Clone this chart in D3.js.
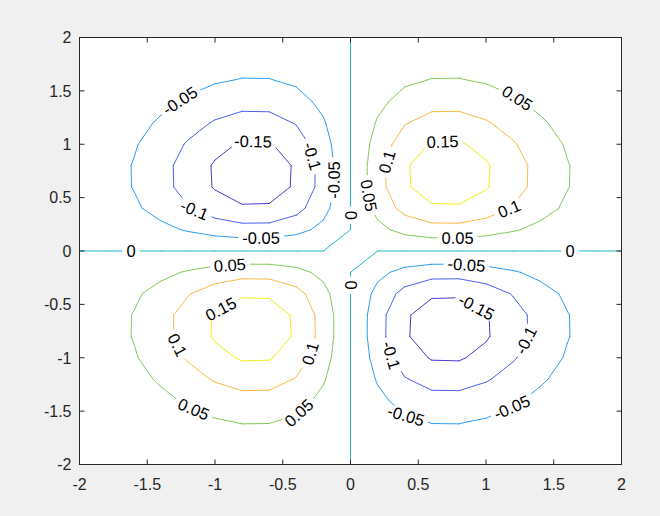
<!DOCTYPE html>
<html><head><meta charset="utf-8">
<script src="https://cdn.jsdelivr.net/npm/d3@7"></script>
<style>body{margin:0;background:#f0f0f0;overflow:hidden;} svg{display:block;}</style>
</head><body><svg id="chart" width="660" height="516"></svg>
<script>
// ---- data ----
const gridX = [-2,-1.8,-1.6,-1.4,-1.2,-1,-0.8,-0.6,-0.4,-0.2,0,0.2,0.4,0.6,0.8,1,1.2,1.4,1.6,1.8,2];
const gridY = [-2,-1.8,-1.6,-1.4,-1.2,-1,-0.8,-0.6,-0.4,-0.2,0,0.2,0.4,0.6,0.8,1,1.2,1.4,1.6,1.8,2];
// separable surface profiles: z(x,y) = profileX[i] * profileY[j]
const profileX = [-0.036631,-0.070495,-0.123687,-0.197201,-0.284313,-0.367879,-0.421834,-0.418606,-0.340858,-0.192158,0,
                  0.192158,0.340858,0.418606,0.421834,0.367879,0.284313,0.197201,0.123687,0.070495,0.036631];
const profileY = [-0.036631,-0.070495,-0.123687,-0.197201,-0.284313,-0.367879,-0.421834,-0.418606,-0.340858,-0.192158,0,
                  0.192158,0.340858,0.418606,0.421834,0.367879,0.284313,0.197201,0.123687,0.070495,0.036631];
const levels = [-0.15,-0.1,-0.05,0,0.05,0.1,0.15];
const levelColors = ["#4a3ccc","#4e60ee","#2f9df2","#1bbdc0","#86c95a","#fbb948","#f2ee1a"];
const xTicks = [-2,-1.5,-1,-0.5,0,0.5,1,1.5,2];
const yTicks = [-2,-1.5,-1,-0.5,0,0.5,1,1.5,2];
// inline contour labels: level and approximate anchor (data units)
const labelLevels = [-0.05,-0.15,-0.1,-0.1,-0.05,-0.05,0,
                     0.05,0.15,0.1,0.05,0.1,0.05,
                     0,0.05,0.15,0.1,0.1,0.05,0.05,
                     0,-0.05,-0.15,-0.1,-0.1,-0.05,-0.05,0];
const labelX = [-1.25,-0.72,-1.15,-0.305,-0.145,-0.66,0,
                1.225,0.68,0.285,0.155,1.165,0.79,
                -1.62,-0.89,-0.94,-1.285,-0.3,-1.16,-0.385,
                1.62,0.855,0.905,1.29,0.305,0.415,1.19,0];
const labelY = [1.39,0.985,0.39,0.88,0.665,0.12,0.335,
                1.42,0.985,0.83,0.525,0.415,0.12,
                0,-0.14,-0.585,-0.885,-0.96,-1.49,-1.51,
                0,-0.14,-0.585,-0.835,-0.975,-1.52,-1.46,-0.32];

// ---- layout ----
const L = 79.5, R = 621.5, T = 37.5, B = 464.5;
const x = d3.scaleLinear().domain([-2,2]).range([L,R]);
const y = d3.scaleLinear().domain([-2,2]).range([B,T]);
const FONT = "'Liberation Sans', Arial, Helvetica, sans-serif";
const FS = 16;
const LFS = 16.5;

const svg = d3.select("#chart");
svg.append("rect").attr("width",660).attr("height",516).attr("fill","#f0f0f0");
svg.append("rect").attr("x",L).attr("y",T).attr("width",R-L).attr("height",B-T).attr("fill","#fff");
svg.append("defs").append("clipPath").attr("id","clip")
  .append("rect").attr("x",L).attr("y",T).attr("width",R-L).attr("height",B-T);

// grid values
const nx = gridX.length, ny = gridY.length;
const Z = gridY.map((_, j) => gridX.map((_, i) => profileX[i] * profileY[j]));

// marching squares -> list of segments in data units
function segmentsFor(level) {
  const segs = [];
  for (let j = 0; j < ny - 1; j++) {
    for (let i = 0; i < nx - 1; i++) {
      const P = [[gridX[i],gridY[j],Z[j][i]],[gridX[i+1],gridY[j],Z[j][i+1]],
                 [gridX[i+1],gridY[j+1],Z[j+1][i+1]],[gridX[i],gridY[j+1],Z[j+1][i]]];
      const inside = P.map(p => p[2] >= level);
      const cross = [];
      for (let e = 0; e < 4; e++) {
        const a = P[e], b = P[(e+1)%4];
        if (inside[e] !== inside[(e+1)%4]) {
          const t = (level - a[2]) / (b[2] - a[2]);
          cross.push({e, p:[a[0] + t*(b[0]-a[0]), a[1] + t*(b[1]-a[1])]});
        }
      }
      if (cross.length === 2) segs.push([cross[0].p, cross[1].p]);
      else if (cross.length === 4) {
        const c = (P[0][2]+P[1][2]+P[2][2]+P[3][2]) / 4 >= level;
        const byE = {}; cross.forEach(k => byE[k.e] = k.p);
        if (c === inside[0]) { segs.push([byE[0], byE[1]]); segs.push([byE[2], byE[3]]); }
        else { segs.push([byE[3], byE[0]]); segs.push([byE[1], byE[2]]); }
      }
    }
  }
  return segs;
}

const segByLevel = levels.map(segmentsFor);
const plot = svg.append("g").attr("clip-path","url(#clip)");
levels.forEach((lv, k) => {
  const d = segByLevel[k].map(s => `M${x(s[0][0])},${y(s[0][1])}L${x(s[1][0])},${y(s[1][1])}`).join("");
  plot.append("path").attr("d", d).attr("fill","none").attr("stroke", levelColors[k])
    .attr("stroke-width", 1).attr("stroke-linecap","round").attr("stroke-linejoin","round");
});

// labels snapped to the nearest contour segment, rotated along it
const labG = svg.append("g");
labelLevels.forEach((lv, n) => {
  const k = levels.indexOf(lv);
  const px = x(labelX[n]), py = y(labelY[n]);
  let best = null;
  segByLevel[k].forEach(s => {
    const ax = x(s[0][0]), ay = y(s[0][1]), bx = x(s[1][0]), by = y(s[1][1]);
    const dx = bx-ax, dy = by-ay, len2 = dx*dx+dy*dy || 1e-9;
    let t = ((px-ax)*dx + (py-ay)*dy) / len2; t = Math.max(0, Math.min(1, t));
    const qx = ax + t*dx, qy = ay + t*dy, dist = (qx-px)**2 + (qy-py)**2;
    if (!best || dist < best.dist) best = {dist, qx, qy, ang: Math.atan2(dy, dx) * 180 / Math.PI};
  });
  let ang = best.ang;
  while (ang > 90) ang -= 180;
  while (ang <= -90) ang += 180;
  const g = labG.append("g").attr("transform", `translate(${best.qx},${best.qy}) rotate(${ang})`);
  const r = g.append("rect").attr("fill","#fff");
  const t = g.append("text").text(String(lv)).attr("text-anchor","middle").attr("dy","0.36em")
    .attr("font-family", FONT).attr("font-size", LFS).attr("fill","#000");
  const w = t.node().getComputedTextLength();
  r.attr("x", -w/2 - 4).attr("y", -6).attr("width", w + 8).attr("height", 12);
});

// axes box and ticks
const ax = svg.append("g").attr("stroke","#262626").attr("stroke-width",1).attr("fill","none");
ax.append("rect").attr("x",L).attr("y",T).attr("width",R-L).attr("height",B-T);
const TL = 5;
xTicks.forEach(v => {
  ax.append("line").attr("x1",x(v)).attr("x2",x(v)).attr("y1",B).attr("y2",B-TL);
  ax.append("line").attr("x1",x(v)).attr("x2",x(v)).attr("y1",T).attr("y2",T+TL);
});
yTicks.forEach(v => {
  ax.append("line").attr("y1",y(v)).attr("y2",y(v)).attr("x1",L).attr("x2",L+TL);
  ax.append("line").attr("y1",y(v)).attr("y2",y(v)).attr("x1",R).attr("x2",R-TL);
});
const tg = svg.append("g").attr("font-family", FONT).attr("font-size", FS).attr("fill","#262626");
xTicks.forEach(v => {
  tg.append("text").attr("x", x(v)).attr("y", B + 14).attr("dy","0.71em")
    .attr("text-anchor","middle").text(String(v));
});
yTicks.forEach(v => {
  tg.append("text").attr("x", L - 8).attr("y", y(v)).attr("dy","0.36em")
    .attr("text-anchor","end").text(String(v));
});
</script>
</body></html>
